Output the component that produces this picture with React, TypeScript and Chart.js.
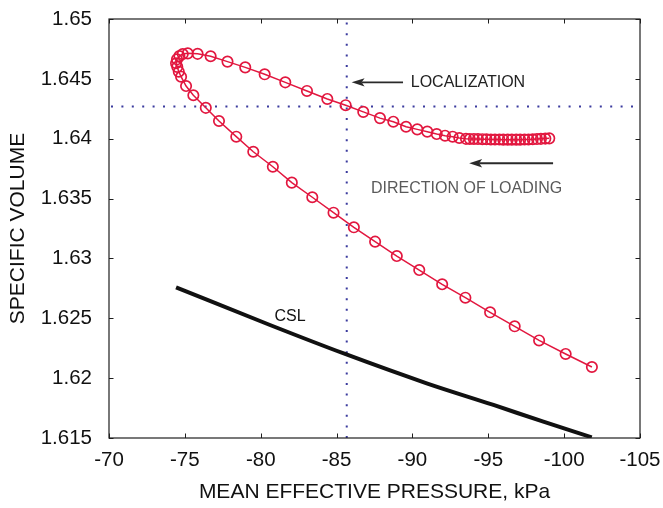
import React, { useEffect, useRef } from 'react';
import { Chart, registerables } from 'chart.js';

Chart.register(...registerables);

// Red simulated path (mean effective pressure, kPa / specific volume)
const loopPressure = [
  -99.02, -98.76, -98.47, -98.21, -97.93, -97.65, -97.39, -97.10, -96.84, -96.55,
  -96.28, -95.99, -95.73, -95.44, -95.17, -94.88, -94.61, -94.32, -94.05, -93.78,
  -93.53, -93.09, -92.65, -92.15, -91.60, -90.98, -90.32, -89.58, -88.74, -87.86,
  -86.76, -85.60, -84.39, -83.05, -81.62, -80.26, -78.98, -77.81, -76.70, -75.84,
  -75.19, -74.86, -74.64, -74.48, -74.42, -74.50, -74.60, -74.75, -75.08, -75.56,
  -76.38, -77.25, -78.39, -79.51, -80.80, -82.05, -83.40, -84.80, -86.14, -87.54,
  -88.97, -90.45, -91.96, -93.49, -95.12, -96.74, -98.35, -100.10, -101.83,
];
const loopVolume = [
  1.64003, 1.64001, 1.63999, 1.63997, 1.63995, 1.63994, 1.63993, 1.63992, 1.63992, 1.63992,
  1.63992, 1.63992, 1.63993, 1.63993, 1.63994, 1.63995, 1.63996, 1.63997, 1.63998, 1.63998,
  1.63999, 1.64006, 1.64017, 1.64025, 1.64039, 1.64059, 1.64078, 1.64100, 1.64142, 1.64172,
  1.64224, 1.64280, 1.64332, 1.64399, 1.64471, 1.64538, 1.64596, 1.64644, 1.64689, 1.64709,
  1.64713, 1.64707, 1.64690, 1.64663, 1.64630, 1.64600, 1.64560, 1.64518, 1.64440, 1.64363,
  1.64258, 1.64148, 1.64017, 1.63891, 1.63766, 1.63633, 1.63511, 1.63382, 1.63260, 1.63140,
  1.63020, 1.62903, 1.62784, 1.62672, 1.62550, 1.62433, 1.62315, 1.62202, 1.62093,
];

// Critical state line
const cslPressure = [-74.42, -80.61, -85.56, -90.94, -95.34, -98.63, -101.82];
const cslVolume = [1.62759, 1.62444, 1.62202, 1.61957, 1.61776, 1.61636, 1.61506];

// Localization marker
const localizationPressure = -85.67;
const localizationVolume = 1.6427;

// Axes
const xTicks = [-70, -75, -80, -85, -90, -95, -100, -105];
const yTicks = [1.615, 1.62, 1.625, 1.63, 1.635, 1.64, 1.645, 1.65];

// Annotations (data coordinates)
const localizationArrow = { fromX: -89.38, toX: -85.99, y: 1.64471 };
const localizationLabel = { text: 'LOCALIZATION', x: -89.89, y: 1.64471 };
const loadingArrow = { fromX: -99.27, toX: -93.74, y: 1.63795 };
const loadingLabel = { text: 'DIRECTION OF LOADING', x: -93.57, y: 1.63586 };
const cslLabel = { text: 'CSL', x: -81.93, y: 1.62513 };

const RED = '#e2173f';
const FONT = "'Liberation Sans', Arial, Helvetica, sans-serif";

function drawArrow(ctx: CanvasRenderingContext2D, x1: number, y1: number, x2: number, y2: number) {
  const ang = Math.atan2(y2 - y1, x2 - x1);
  const len = 13;
  const half = 4.2;
  const notch = 10;
  ctx.save();
  ctx.strokeStyle = '#2a2a2a';
  ctx.fillStyle = '#2a2a2a';
  ctx.lineWidth = 1.8;
  ctx.beginPath();
  ctx.moveTo(x1, y1);
  ctx.lineTo(x2 - Math.cos(ang) * notch, y2 - Math.sin(ang) * notch);
  ctx.stroke();
  ctx.translate(x2, y2);
  ctx.rotate(ang);
  ctx.beginPath();
  ctx.moveTo(0, 0);
  ctx.lineTo(-len, -half);
  ctx.lineTo(-notch, 0);
  ctx.lineTo(-len, half);
  ctx.closePath();
  ctx.fill();
  ctx.restore();
}

const framePlugin = {
  id: 'frameAndNotes',
  afterDatasetsDraw(chart: any) {
    const { ctx, chartArea } = chart;
    const xs = chart.scales.x;
    const ys = chart.scales.y;
    const { left, right, top, bottom } = chartArea;
    ctx.save();
    ctx.strokeStyle = '#1e1e1e';
    ctx.lineWidth = 1.2;
    ctx.strokeRect(left, top, right - left, bottom - top);
    ctx.lineWidth = 1;
    ctx.beginPath();
    const t = 4.5;
    xTicks.forEach((v) => {
      const px = Math.round(xs.getPixelForValue(v)) + 0.5;
      ctx.moveTo(px, bottom);
      ctx.lineTo(px, bottom - t);
      ctx.moveTo(px, top);
      ctx.lineTo(px, top + t);
    });
    yTicks.forEach((v) => {
      const py = Math.round(ys.getPixelForValue(v)) + 0.5;
      ctx.moveTo(left, py);
      ctx.lineTo(left + t, py);
      ctx.moveTo(right, py);
      ctx.lineTo(right - t, py);
    });
    ctx.stroke();

    drawArrow(
      ctx,
      xs.getPixelForValue(localizationArrow.fromX),
      ys.getPixelForValue(localizationArrow.y),
      xs.getPixelForValue(localizationArrow.toX),
      ys.getPixelForValue(localizationArrow.y)
    );
    drawArrow(
      ctx,
      xs.getPixelForValue(loadingArrow.fromX),
      ys.getPixelForValue(loadingArrow.y),
      xs.getPixelForValue(loadingArrow.toX),
      ys.getPixelForValue(loadingArrow.y)
    );

    ctx.font = `16px ${FONT}`;
    ctx.textBaseline = 'middle';
    ctx.textAlign = 'left';
    ctx.fillStyle = '#222';
    ctx.fillText(
      localizationLabel.text,
      xs.getPixelForValue(localizationLabel.x),
      ys.getPixelForValue(localizationLabel.y)
    );
    ctx.textAlign = 'center';
    ctx.fillStyle = '#5a5a5a';
    ctx.fillText(
      loadingLabel.text,
      xs.getPixelForValue(loadingLabel.x),
      ys.getPixelForValue(loadingLabel.y)
    );
    ctx.fillStyle = '#111';
    ctx.fillText(cslLabel.text, xs.getPixelForValue(cslLabel.x), ys.getPixelForValue(cslLabel.y));
    ctx.restore();
  },
};

function zeroPadding(s: any) {
  s.paddingTop = 0;
  s.paddingBottom = 0;
  s.paddingLeft = 0;
  s.paddingRight = 0;
}

export default function App() {
  const canvasRef = useRef<HTMLCanvasElement | null>(null);

  useEffect(() => {
    const canvas = canvasRef.current;
    if (!canvas) return;
    const loopData = loopPressure.map((x, i) => ({ x, y: loopVolume[i] }));
    const cslData = cslPressure.map((x, i) => ({ x, y: cslVolume[i] }));
    const vLine = [
      { x: localizationPressure, y: yTicks[0] },
      { x: localizationPressure, y: yTicks[yTicks.length - 1] },
    ];
    const hLine = [
      { x: xTicks[0], y: localizationVolume },
      { x: xTicks[xTicks.length - 1], y: localizationVolume },
    ];

    const chart = new Chart(canvas, {
      type: 'scatter',
      data: {
        datasets: [
          {
            label: 'path',
            data: loopData,
            showLine: true,
            borderColor: RED,
            borderWidth: 1.5,
            pointRadius: 5.2,
            pointBorderWidth: 1.7,
            pointBorderColor: RED,
            pointBackgroundColor: 'rgba(0,0,0,0)',
            order: 0,
          },
          {
            label: 'CSL',
            data: cslData,
            showLine: true,
            borderColor: '#111',
            borderWidth: 4,
            pointRadius: 0,
            cubicInterpolationMode: 'monotone',
            order: 1,
          },
          {
            label: 'vloc',
            data: vLine,
            showLine: true,
            borderColor: '#3b3b9e',
            borderWidth: 2,
            borderDash: [2, 8.6],
            pointRadius: 0,
            order: 2,
          },
          {
            label: 'hloc',
            data: hLine,
            showLine: true,
            borderColor: '#3b3b9e',
            borderWidth: 2,
            borderDash: [2, 8.4],
            borderDashOffset: -2,
            pointRadius: 0,
            order: 3,
          },
        ],
      },
      options: {
        responsive: false,
        animation: false,
        events: [],
        layout: { padding: { left: 0, top: 19, right: 23, bottom: 0 } },
        plugins: {
          legend: { display: false },
          tooltip: { enabled: false },
        },
        scales: {
          x: {
            type: 'linear',
            reverse: true,
            min: -105,
            max: -70,
            grid: { display: false, drawTicks: false },
            border: { display: false },
            afterBuildTicks: (s: any) => {
              s.ticks = xTicks.map((v) => ({ value: v }));
            },
            afterFit: (s: any) => {
              s.height = 70;
              zeroPadding(s);
            },
            ticks: {
              padding: 10,
              color: '#111',
              font: { size: 20.5, family: FONT },
              maxRotation: 0,
              autoSkip: false,
              callback: (v: any) => String(v),
            },
            title: {
              display: true,
              text: 'MEAN EFFECTIVE PRESSURE, kPa',
              color: '#111',
              font: { size: 21, family: FONT },
              padding: { top: 0, bottom: 3.5 },
            },
          },
          y: {
            type: 'linear',
            min: 1.615,
            max: 1.65,
            grid: { display: false, drawTicks: false },
            border: { display: false },
            afterBuildTicks: (s: any) => {
              s.ticks = yTicks.map((v) => ({ value: v }));
            },
            afterFit: (s: any) => {
              s.width = 109;
              zeroPadding(s);
            },
            ticks: {
              padding: 17,
              color: '#111',
              font: { size: 20.5, family: FONT },
              autoSkip: false,
              callback: (v: any) => String(Number(Number(v).toFixed(3))),
            },
            title: {
              display: true,
              text: 'SPECIFIC VOLUME',
              color: '#111',
              font: { size: 21, family: FONT },
              padding: { top: 5.5, bottom: 0 },
            },
          },
        },
      },
      plugins: [framePlugin],
    } as any);

    return () => chart.destroy();
  }, []);

  return (
    <div style={{ position: 'absolute', left: 0, top: 0, width: 663, height: 508, background: '#fff' }}>
      <canvas ref={canvasRef} width={663} height={508} style={{ display: 'block' }} />
    </div>
  );
}
